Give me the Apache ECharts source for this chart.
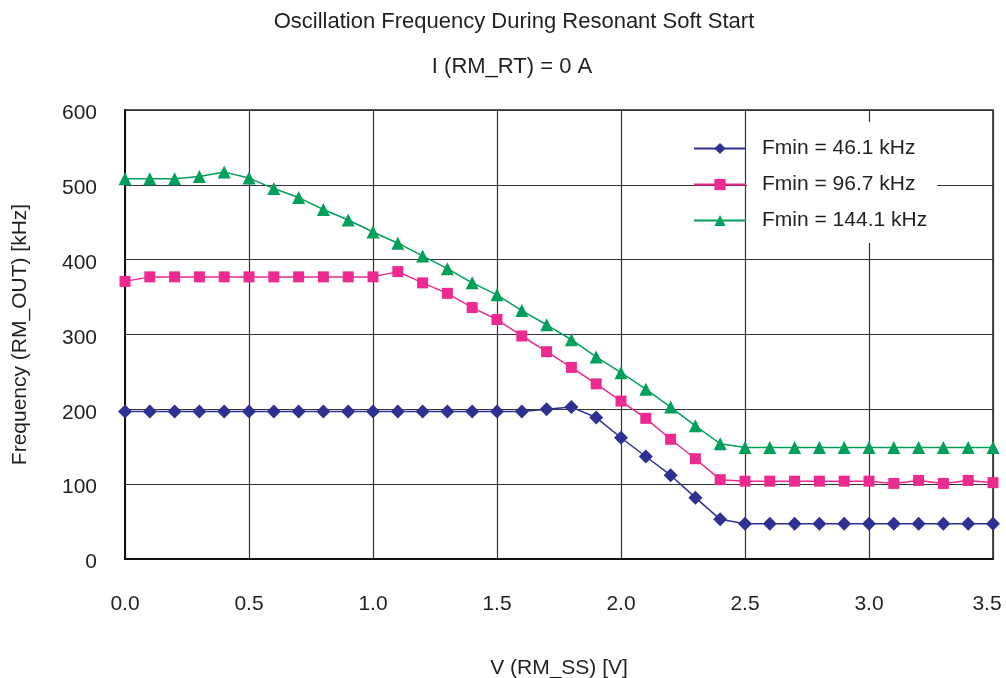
<!DOCTYPE html>
<html>
<head>
<meta charset="utf-8">
<script src="https://cdn.jsdelivr.net/npm/echarts@6/dist/echarts.min.js"></script>
<style>
  html, body { margin: 0; padding: 0; background: #fff; }
  #tu { width: 1006px; height: 678px; }
</style>
</head>
<body>
<div id="tu"></div>
<script>
var voltages = [0.0, 0.1, 0.2, 0.3, 0.4, 0.5, 0.6, 0.7, 0.8, 0.9, 1.0, 1.1, 1.2, 1.3, 1.4, 1.5, 1.6, 1.7,
                1.8, 1.9, 2.0, 2.1, 2.2, 2.3, 2.4, 2.5, 2.6, 2.7, 2.8, 2.9, 3.0, 3.1, 3.2, 3.3, 3.4, 3.5];
var seriesNames = ['Fmin = 46.1 kHz', 'Fmin = 96.7 kHz', 'Fmin = 144.1 kHz'];
var f46 = [197, 197, 197, 197, 197, 197, 197, 197, 197, 197, 197, 197, 197, 197, 197, 197, 197, 200,
           203, 189, 162, 137, 112, 82, 53, 47, 47, 47, 47, 47, 47, 47, 47, 47, 47, 47];
var f97 = [371, 377, 377, 377, 377, 377, 377, 377, 377, 377, 377, 384, 369, 355, 336, 320, 298, 277,
           256, 234, 211, 188, 160, 134, 106, 104, 104, 104, 104, 104, 104, 101, 105, 101, 105, 102];
var f144 = [508, 508, 508, 511, 517, 509, 495, 483, 467, 453, 437, 422, 405, 388, 369, 353, 332, 313,
            293, 270, 249, 227, 203, 178, 154, 149, 149, 149, 149, 149, 149, 149, 149, 149, 149, 149];
var colors = ['#2e3192', '#ec2a8f', '#00a05a'];
var symbols = ['diamond', 'rect', 'triangle'];
var symbolSizes = [14, 11, 13];

function pairs(ys) {
    return voltages.map(function (v, i) { return [v, ys[i]]; });
}

var myChart = echarts.init(document.getElementById('tu'));
var font = 'Liberation Sans, Arial, sans-serif';
var ink = '#231f20';

var option = {
    backgroundColor: '#fff',
    textStyle: { fontFamily: font },
    title: [{
        text: 'Oscillation Frequency During Resonant Soft Start',
        left: 509, top: 6, textAlign: 'center',
        textStyle: { fontFamily: font, fontSize: 22, fontWeight: 'normal', color: ink }
    }, {
        text: 'I (RM_RT) = 0 A',
        left: 507, top: 51, textAlign: 'center',
        textStyle: { fontFamily: font, fontSize: 22, fontWeight: 'normal', color: ink }
    }],
    grid: {
        left: 125, right: 13, top: 110, bottom: 119,
        outerBoundsMode: 'none', containLabel: false,
        show: true, borderColor: '#222', borderWidth: 1.5
    },
    legend: {
        orient: 'vertical',
        left: 693, top: 138, padding: 0,
        itemWidth: 52, itemHeight: 14, itemGap: 15,
        textStyle: { fontFamily: font, fontSize: 21, color: ink, padding: [0, 0, 0, 11] },
        data: seriesNames
    },
    graphic: [{
        type: 'rect', z: 1, silent: true,
        shape: { x: 747, y: 122, width: 190, height: 121 },
        style: { fill: '#fff' }
    }],
    xAxis: {
        type: 'value', min: 0, max: 3.5, interval: 0.5,
        name: 'V (RM_SS) [V]', nameLocation: 'middle', nameGap: 99,
        nameTextStyle: { fontFamily: font, fontSize: 21, color: ink },
        axisLine: { lineStyle: { color: '#111', width: 2 } },
        axisTick: { show: false },
        axisLabel: {
            margin: 35, fontSize: 21, color: ink, fontFamily: font,
            formatter: function (v) {
                return v === 3.5 ? '{r|' + v.toFixed(1) + '}' : v.toFixed(1);
            },
            rich: { r: { fontSize: 21, color: ink, fontFamily: font, padding: [0, 12, 0, 0] } }
        },
        splitLine: { show: true, lineStyle: { color: '#333', width: 1.2 } }
    },
    yAxis: {
        type: 'value', min: 0, max: 600, interval: 100,
        name: 'Frequency (RM_OUT) [kHz]', nameLocation: 'middle', nameGap: 94,
        nameTextStyle: { fontFamily: font, fontSize: 21, color: ink },
        axisLine: { show: true, lineStyle: { color: '#111', width: 2 } },
        axisTick: { show: false },
        axisLabel: {
            margin: 28, fontSize: 21, color: ink, fontFamily: font,
            verticalAlign: 'top', lineHeight: 7
        },
        splitLine: { show: true, lineStyle: { color: '#333', width: 1.2 } }
    },
    series: [f46, f97, f144].map(function (ys, i) {
        return {
            name: seriesNames[i],
            type: 'line',
            data: pairs(ys),
            symbol: symbols[i],
            symbolSize: symbolSizes[i],
            showAllSymbol: true,
            clip: false,
            z: 3,
            lineStyle: { color: colors[i], width: 1.5 },
            itemStyle: { color: colors[i] }
        };
    })
};

myChart.setOption(option);
</script>
</body>
</html>
